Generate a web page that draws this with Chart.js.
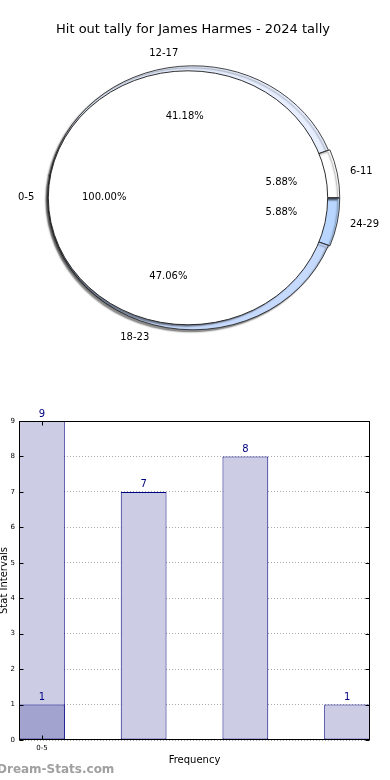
<!DOCTYPE html>
<html>
<head>
<meta charset="utf-8">
<script src="https://cdn.jsdelivr.net/npm/chart.js@4.4.1/dist/chart.umd.min.js"></script>
<style>
  html, body { margin: 0; padding: 0; background: #fff; }
  body { width: 390px; height: 780px; position: relative; overflow: hidden; }
  #pieBox { position: absolute; left: 0; top: 0; width: 390px; height: 390px; }
  #barBox { position: absolute; left: 0; top: 390px; width: 390px; height: 390px; }
  #mark { position: absolute; left: -3px; top: 762px; font: bold 12px "DejaVu Sans", sans-serif; color: #a0a0a0; white-space: nowrap; }
</style>
</head>
<body>
<div id="pieBox"><canvas id="pie"></canvas></div>
<div id="barBox"><canvas id="bar"></canvas></div>
<div id="mark">Dream-Stats.com</div>
<script>
const chartTitle = "Hit out tally for James Harmes - 2024 tally";

// outer ring, in the order matplotlib lays it out (ccw from 3 o'clock)
const ringLabels = ["6-11", "12-17", "18-23", "24-29"];
const ringCounts = [1, 7, 8, 1];
// inner pie
const innerLabels = ["0-5"];
const innerCounts = [1];

// bar chart below
const barValues = [9, 7, 8, 1];
const overlayValues = [1];
const xTickLabels = ["0-5"];

// styling
const ringColors = ["#ffffff", "#e6eeff", "#c6dafd", "#b8d6ff"];
const ringExplode = [3.5, 0, 0, 3.5];
const FONT = '"DejaVu Sans", sans-serif';
const SX = 1.1;        // pie is drawn wider than tall
const PIE_SHIFT = 5;   // inner pie is exploded to the left
Chart.defaults.font.family = FONT;

const rev = (a) => a.slice().reverse();

// stretch the arcs horizontally + drop shadow, text is left alone
const stretchPlugin = {
  id: "stretch",
  beforeDatasetDraw(chart, args) {
    const ctx = chart.ctx;
    const el = args.meta.data[0];
    ctx.save();
    ctx.translate(el.x, el.y);
    ctx.scale(SX, 1);
    ctx.translate(-el.x, -el.y);
    if (args.index === 1) ctx.translate(-PIE_SHIFT / SX, 0);
    ctx.shadowColor = "rgba(0,0,0,0.45)";
    ctx.shadowOffsetX = -2;
    ctx.shadowOffsetY = 2;
    ctx.shadowBlur = 1.5;
  },
  afterDatasetDraw(chart, args) {
    const ctx = chart.ctx;
    if (args.index === 1) {
      // outline of the 100% slice (no radial seam)
      const el = args.meta.data[0];
      ctx.shadowColor = "transparent";
      ctx.beginPath();
      ctx.arc(el.x, el.y, el.outerRadius, 0, Math.PI * 2);
      ctx.lineWidth = 0.9;
      ctx.strokeStyle = "#222";
      ctx.stroke();
    }
    ctx.restore();
  },
};

const pieLabelPlugin = {
  id: "pieLabels",
  afterDraw(chart) {
    const ctx = chart.ctx;
    ctx.save();
    ctx.font = `10px ${FONT}`;
    ctx.fillStyle = "#000";
    ctx.textBaseline = "middle";
    chart.data.datasets.forEach((ds, di) => {
      const meta = chart.getDatasetMeta(di);
      const total = ds.data.reduce((a, b) => a + b, 0);
      const shift = di === 1 ? -PIE_SHIFT : 0;
      const pct = di === 1 ? 0.6 : 0.62;
      meta.data.forEach((arc, i) => {
        const a = (arc.startAngle + arc.endAngle) / 2;
        const r = arc.outerRadius;
        const c = Math.cos(a), s = Math.sin(a);
        const cx = arc.x + shift, cy = arc.y;
        ctx.textAlign = c < -1e-6 ? "right" : "left";
        ctx.fillText(ds.names[i], cx + SX * 1.1 * r * c, cy + 1.1 * r * s);
        ctx.textAlign = "center";
        const p = ((ds.data[i] / total) * 100).toFixed(2) + "%";
        ctx.fillText(p, cx + SX * pct * r * c, cy + pct * r * s);
      });
    });
    ctx.restore();
  },
};

new Chart(document.getElementById("pie"), {
  type: "doughnut",
  data: {
    labels: rev(ringLabels),
    datasets: [
      {
        names: rev(ringLabels),
        data: rev(ringCounts),
        backgroundColor: rev(ringColors),
        offset: rev(ringExplode),
        borderColor: "#222",
        borderWidth: 0.8,
        radius: 132,
        weight: 1,
        rotation: 90,
        order: 1,
      },
      {
        names: innerLabels,
        data: innerCounts,
        backgroundColor: "#ffffff",
        borderWidth: 0,
        radius: 254,
        weight: 1,
        rotation: 90,
        order: 0,
      },
    ],
  },
  options: {
    responsive: true,
    maintainAspectRatio: false,
    animation: false,
    events: [],
    cutout: 0,
    layout: { padding: { left: 0, right: 4, top: 0, bottom: 32 } },
    plugins: {
      legend: { display: false },
      tooltip: { enabled: false },
      title: {
        display: true,
        text: chartTitle,
        color: "#000",
        font: { size: 13, weight: "normal", lineHeight: 1.2 },
        padding: { top: 22, bottom: 0 },
      },
    },
  },
  plugins: [stretchPlugin, pieLabelPlugin],
});

// ---- bar chart ----
const framePlugin = {
  id: "frame",
  afterDraw(chart) {
    const ctx = chart.ctx;
    const { left, top, right, bottom } = chart.chartArea;
    const L = Math.round(left) + 0.5, T = Math.round(top) + 0.5;
    const R = Math.round(right) - 0.5, B = Math.round(bottom) - 0.5;
    ctx.save();
    ctx.strokeStyle = "#000";
    ctx.lineWidth = 1;
    ctx.beginPath();
    chart.scales.y.ticks.forEach((t) => {
      const y = Math.round(chart.scales.y.getPixelForValue(t.value)) + 0.5;
      ctx.moveTo(L, y); ctx.lineTo(L + 4, y);
      ctx.moveTo(R, y); ctx.lineTo(R - 4, y);
    });
    chart.scales.x.ticks.forEach((t) => {
      const x = Math.round(chart.scales.x.getPixelForValue(t.value)) + 0.5;
      ctx.moveTo(x, B); ctx.lineTo(x, B - 4);
      ctx.moveTo(x, T); ctx.lineTo(x, T + 4);
    });
    ctx.stroke();
    ctx.strokeRect(L, T, R - L, B - T);

    ctx.font = `10px ${FONT}`;
    ctx.fillStyle = "#000080";
    ctx.textAlign = "center";
    ctx.textBaseline = "bottom";
    chart.data.datasets.forEach((ds, di) => {
      chart.getDatasetMeta(di).data.forEach((bar, i) => {
        ctx.fillText(String(ds.data[i].y), bar.x, bar.y - 2);
      });
    });
    ctx.restore();
  },
};

const toPoints = (vals) => vals.map((v, i) => ({ x: i, y: v }));

new Chart(document.getElementById("bar"), {
  type: "bar",
  data: {
    datasets: [
      {
        data: toPoints(overlayValues),
        backgroundColor: "#a3a3cf",
        borderColor: "#000080",
        borderWidth: 1,
        borderSkipped: false,
        grouped: false,
        barPercentage: 0.45,
        categoryPercentage: 1,
        order: 0,
      },
      {
        data: toPoints(barValues),
        backgroundColor: "#ccccE4",
        borderColor: "#000080",
        borderWidth: 1,
        borderSkipped: false,
        grouped: false,
        barPercentage: 0.45,
        categoryPercentage: 1,
        order: 1,
      },
    ],
  },
  options: {
    responsive: true,
    maintainAspectRatio: false,
    animation: false,
    events: [],
    layout: { padding: { top: 31, right: 20, left: 0, bottom: 0 } },
    plugins: { legend: { display: false }, tooltip: { enabled: false } },
    scales: {
      x: {
        type: "linear",
        min: -0.225,
        max: 3.225,
        offset: false,
        z: 1,
        afterBuildTicks: (s) => {
          s.ticks = xTickLabels.map((_, i) => ({ value: i }));
        },
        afterFit: (s) => { s.height = 40; },
        ticks: {
          callback: (v, i) => xTickLabels[i],
          font: { size: 7 },
          color: "#000",
          padding: 4,
          maxRotation: 0,
        },
        grid: { color: "#aaa", drawTicks: false, offset: false },
        border: { display: false, dash: [1, 2] },
        title: {
          display: true,
          text: "Frequency",
          color: "#000",
          font: { size: 10 },
          padding: { top: 0, bottom: 14 },
        },
      },
      y: {
        min: 0,
        max: 9,
        z: 1,
        afterFit: (s) => { s.width = 19; },
        ticks: { stepSize: 1, font: { size: 7 }, color: "#000", padding: 4 },
        grid: { color: "#aaa", drawTicks: false },
        border: { display: false, dash: [1, 2] },
        title: {
          display: true,
          text: "Stat Intervals",
          color: "#000",
          font: { size: 10 },
          padding: { top: -2, bottom: 0 },
        },
      },
    },
  },
  plugins: [framePlugin],
});
</script>
</body>
</html>
